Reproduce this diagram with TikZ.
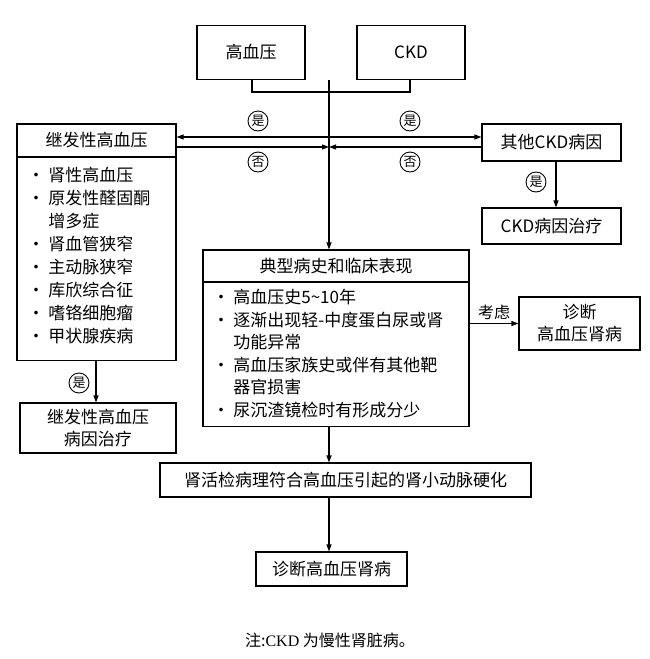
\documentclass[tikz,border=0pt]{standalone}
\usepackage{fontspec}
\setmainfont{Liberation Sans}
\newfontfamily\cjk{Noto Sans CJK SC}
\newfontfamily\serifcjk{Noto Sans CJK SC}
\usetikzlibrary{arrows.meta}
\begin{document}
\begin{tikzpicture}[x=1pt,y=1pt,line width=1.1pt,
  box/.style={draw,inner sep=0pt,align=center,font=\cjk\fontsize{17}{22}\selectfont},
  body/.style={draw,inner sep=0pt,anchor=north,font=\cjk\fontsize{17}{23}\selectfont},
  circ/.style={circle,draw,line width=0.9pt,inner sep=0pt,minimum size=20pt,font=\cjk\fontsize{13}{13}\selectfont},
  arr/.style={-{Triangle[length=7pt,width=5pt]}}]
\useasboundingbox (0,0) rectangle (650,-659);
\node[box,minimum width=108pt,minimum height=54pt] (hbp) at (251,-52.5) {高血压};
\node[box,minimum width=108pt,minimum height=54pt] (ckd) at (411,-52.5) {CKD};
\node[box,minimum width=159pt,minimum height=33pt] (sec) at (96.5,-140.5) {继发性高血压};
\node[body,minimum width=159pt,minimum height=203pt] (secb) at (96.5,-157) {};
\node[anchor=north west,inner sep=0pt,align=left,font=\cjk\fontsize{17}{23}\selectfont] (secbt) at (27,-167) {• 肾性高血压\\• 原发性醛固酮\\\phantom{• }增多症\\• 肾血管狭窄\\• 主动脉狭窄\\• 库欣综合征\\• 嗜铬细胞瘤\\• 甲状腺疾病};
\node[box,minimum width=139pt,minimum height=37pt] (oth) at (551.5,-142.5) {其他CKD病因};
\node[box,minimum width=139pt,minimum height=36pt] (ckdt) at (551.5,-226) {CKD病因治疗};
\node[box,minimum width=266pt,minimum height=32pt] (typ) at (336,-266) {典型病史和临床表现};
\node[body,minimum width=266pt,minimum height=144pt] (typb) at (336,-282) {};
\node[anchor=north west,inner sep=0pt,align=left,font=\cjk\fontsize{17}{22.5}\selectfont] (typbt) at (212,-289) {· 高血压史5\char"007E 10年\\· 逐渐出现轻-中度蛋白尿或肾\\\phantom{· }功能异常\\· 高血压家族史或伴有其他靶\\\phantom{· }器官损害\\· 尿沉渣镜检时有形成分少};
\node[box,minimum width=121pt,minimum height=53pt] (dx1) at (579.5,-323.5) {诊断\\高血压肾病};
\node[box,minimum width=156pt,minimum height=50pt] (sect) at (98,-428) {继发性高血压\\病因治疗};
\node[box,minimum width=371pt,minimum height=34pt] (bio) at (345.5,-480) {肾活检病理符合高血压引起的肾小动脉硬化};
\node[box,minimum width=151pt,minimum height=34pt] (dx2) at (331.5,-569) {诊断高血压肾病};
\node[font=\serifcjk\fontsize{16}{16}\selectfont] (note) at (330,-640) {注:{\fontspec{Liberation Serif}CKD} 为慢性肾脏病。};
\coordinate (j) at (329,-92);
\coordinate (c1) at (329,-137);
\coordinate (c2) at (329,-147);
\coordinate (ox) at (556,0);
\coordinate (lx) at (96,0);
\draw (hbp.south -| 252,0) -- (252,-92) -- (410,-92) -- (ckd.south -| 410,0);
\draw[arr] (329,-80) -- (j) -- (j |- typ.north);
\draw[arr] (c1) -- (c1 -| sec.east);
\draw[arr] (c1) -- (c1 -| oth.west);
\draw[arr] (c2 -| sec.east) -- (c2);
\draw[arr] (c2 -| oth.west) -- (c2);
\node[circ] (y1) at (258,-121) {是};
\node[circ] (y2) at (410,-121) {是};
\node[circ] (n1) at (258,-162) {否};
\node[circ] (n2) at (410,-162) {否};
\draw[arr] (oth.south -| ox) -- (ckdt.north -| ox);
\node[circ] (y3) at (536,-182) {是};
\draw[arr] (secb.south -| lx) -- (sect.north -| lx);
\node[circ] (y4) at (79,-383) {是};
\draw[arr] (dx1.west -| typb.east) -- node[above,font=\cjk\fontsize{16}{16}\selectfont] (kl) {考虑} (dx1.west);
\draw[arr] (typb.south -| j) -- (bio.north -| j);
\draw[arr] (bio.south -| j) -- (dx2.north -| j);
\end{tikzpicture}
\end{document}
